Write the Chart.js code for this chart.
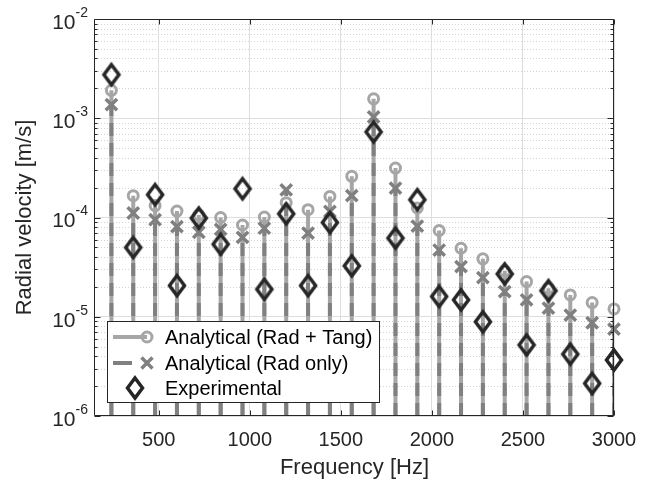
<!DOCTYPE html>
<html>
<head>
<meta charset="utf-8">
<script src="https://cdn.jsdelivr.net/npm/chart.js@4.4.1/dist/chart.umd.min.js"></script>
<style>
  html, body { margin: 0; padding: 0; background: #fff; }
</style>
</head>
<body>
<canvas id="stemChart" width="650" height="485"></canvas>
<script>
// mode frequencies [Hz]
var freqs = [240, 360, 480, 600, 720, 840, 960, 1080, 1200, 1320, 1440, 1560,
             1680, 1800, 1920, 2040, 2160, 2280, 2400, 2520, 2640, 2760, 2880, 3000];
// radial velocity [m/s]
var radTang = [1.91e-3, 1.66e-4, 1.32e-4, 1.16e-4, 1.06e-4, 1.0e-4, 8.4e-5, 1.01e-4, 1.41e-4, 1.2e-4, 1.63e-4, 2.6e-4,
               1.57e-3, 3.15e-4, 1.25e-4, 7.4e-5, 4.9e-5, 3.83e-5, 2.9e-5, 2.26e-5, 1.94e-5, 1.66e-5, 1.39e-5, 1.2e-5];
var radOnly = [1.37e-3, 1.11e-4, 9.5e-5, 8.1e-5, 7.1e-5, 7.6e-5, 6.3e-5, 7.8e-5, 1.9e-4, 6.95e-5, 1.15e-4, 1.66e-4,
               1.03e-3, 1.98e-4, 8.2e-5, 4.7e-5, 3.2e-5, 2.48e-5, 1.79e-5, 1.48e-5, 1.22e-5, 1.04e-5, 8.7e-6, 7.5e-6];
var experimental = [2.75e-3, 4.99e-5, 1.7e-4, 2.06e-5, 9.86e-5, 5.38e-5, 1.95e-4, 1.89e-5, 1.09e-4, 2.06e-5, 8.9e-5, 3.26e-5,
                    7.28e-4, 6.2e-5, 1.51e-4, 1.6e-5, 1.48e-5, 8.9e-6, 2.7e-5, 5.2e-6, 1.83e-5, 4.2e-6, 2.13e-6, 3.67e-6];

var xTicks = [500, 1000, 1500, 2000, 2500, 3000];
var yDecades = [1e-6, 1e-5, 1e-4, 1e-3, 1e-2];
var yExponents = ['-6', '-5', '-4', '-3', '-2'];
var seriesNames = ['Analytical (Rad + Tang)', 'Analytical (Rad only)', 'Experimental'];

var LIGHT = '#a6a6a6';
var DARK = '#808080';
var BLACK = '#262626';
var FONT = '"Liberation Sans", Arial, Helvetica, sans-serif';
var STEM_DASH = [13, 7];

// stems: bottom point, top point, gap
function stems(vals) {
    var pts = [];
    freqs.forEach(function (f, i) {
        pts.push({ x: f, y: yDecades[0] }, { x: f, y: vals[i] }, { x: f, y: null });
    });
    return pts;
}
function points(vals) {
    return freqs.map(function (f, i) { return { x: f, y: vals[i] }; });
}

// matlab-like tall diamond marker
function diamondMarker() {
    var c = document.createElement('canvas');
    c.width = 26; c.height = 32;
    var g = c.getContext('2d');
    g.strokeStyle = BLACK;
    g.lineWidth = 3.5;
    g.lineJoin = 'miter';
    g.beginPath();
    g.moveTo(13, 6); g.lineTo(20.5, 16); g.lineTo(13, 26); g.lineTo(5.5, 16);
    g.closePath();
    g.stroke();
    return c;
}
var diamond = diamondMarker();

var matlabAxes = {
    id: 'matlabAxes',
    beforeDatasetsDraw: function (chart) {
        var ctx = chart.ctx, a = chart.chartArea, ys = chart.scales.y;
        ctx.save();
        ctx.strokeStyle = '#d2d2d2';
        ctx.lineWidth = 1;
        ctx.setLineDash([1, 2]);
        for (var d = 0; d < yDecades.length - 1; d++) {
            for (var m = 2; m <= 9; m++) {
                var py = Math.round(ys.getPixelForValue(m * yDecades[d])) + 0.5;
                ctx.beginPath();
                ctx.moveTo(a.left, py); ctx.lineTo(a.right, py);
                ctx.stroke();
            }
        }
        ctx.restore();
    },
    afterDatasetsDraw: function (chart) {
        var ctx = chart.ctx, a = chart.chartArea, xs = chart.scales.x, ys = chart.scales.y;
        var L = Math.round(a.left) - 0.5, R = Math.round(a.right) - 0.5;
        var T = Math.round(a.top) + 0.5, B = Math.round(a.bottom) - 0.5;
        ctx.save();
        ctx.strokeStyle = BLACK;
        ctx.lineWidth = 1;
        ctx.beginPath();
        // box
        ctx.rect(L, T, R - L, B - T);
        // x ticks top and bottom
        xTicks.forEach(function (v) {
            var px = Math.round(xs.getPixelForValue(v)) + 0.5;
            ctx.moveTo(px, B); ctx.lineTo(px, B - 5);
            ctx.moveTo(px, T); ctx.lineTo(px, T + 5);
        });
        // y ticks left and right, major + minor
        for (var d = 0; d < yDecades.length; d++) {
            var py = Math.round(ys.getPixelForValue(yDecades[d])) + 0.5;
            ctx.moveTo(L, py); ctx.lineTo(L + 6, py);
            ctx.moveTo(R, py); ctx.lineTo(R - 6, py);
            if (d === yDecades.length - 1) break;
            for (var m = 2; m <= 9; m++) {
                var pm = Math.round(ys.getPixelForValue(m * yDecades[d])) + 0.5;
                ctx.moveTo(L, pm); ctx.lineTo(L + 3, pm);
                ctx.moveTo(R, pm); ctx.lineTo(R - 3, pm);
            }
        }
        ctx.stroke();

        // y tick labels 10^n
        ctx.fillStyle = BLACK;
        ctx.textBaseline = 'middle';
        yDecades.forEach(function (v, i) {
            var py = ys.getPixelForValue(v);
            ctx.font = '14px ' + FONT;
            ctx.textAlign = 'right';
            ctx.fillText(yExponents[i], 88, py - 6);
            var ew = ctx.measureText(yExponents[i]).width;
            ctx.font = '21px ' + FONT;
            ctx.fillText('10', 88 - ew, py + 4);
        });

        // legend
        var lx = 107.5, ly = 321.5, lw = 272, lh = 81;
        ctx.fillStyle = '#fff';
        ctx.fillRect(lx, ly, lw, lh);
        ctx.strokeStyle = BLACK;
        ctx.lineWidth = 1;
        ctx.strokeRect(lx, ly, lw, lh);
        var rows = [337, 363, 388];
        // row 1: light line + circle
        ctx.strokeStyle = LIGHT; ctx.lineWidth = 4;
        ctx.beginPath(); ctx.moveTo(113, rows[0]); ctx.lineTo(147, rows[0]); ctx.stroke();
        ctx.lineWidth = 3;
        ctx.beginPath(); ctx.arc(147, rows[0], 5, 0, Math.PI * 2); ctx.stroke();
        // row 2: dark dash + cross
        ctx.strokeStyle = DARK; ctx.lineWidth = 4;
        ctx.beginPath(); ctx.moveTo(113, rows[1]); ctx.lineTo(132, rows[1]); ctx.stroke();
        ctx.lineWidth = 3.5;
        ctx.beginPath();
        ctx.moveTo(141.5, rows[1] - 5.5); ctx.lineTo(152.5, rows[1] + 5.5);
        ctx.moveTo(152.5, rows[1] - 5.5); ctx.lineTo(141.5, rows[1] + 5.5);
        ctx.stroke();
        // row 3: diamond
        ctx.drawImage(diamond, 135 - 13, rows[2] - 16);
        ctx.fillStyle = '#000';
        ctx.font = '20px ' + FONT;
        ctx.textAlign = 'left';
        seriesNames.forEach(function (s, i) { ctx.fillText(s, 165, rows[i] + 1); });
        ctx.restore();
    }
};

var ctx = document.getElementById('stemChart').getContext('2d');
new Chart(ctx, {
    type: 'line',
    data: {
        datasets: [
            {
                label: 'stems rad+tang', data: stems(radTang), order: 5,
                borderColor: LIGHT, borderWidth: 4, pointRadius: 0, spanGaps: false, fill: false
            },
            {
                label: seriesNames[0], data: points(radTang), order: 4, showLine: false, clip: false,
                pointStyle: 'circle', pointRadius: 5, pointBorderWidth: 3,
                pointBorderColor: LIGHT, pointBackgroundColor: 'rgba(0,0,0,0)'
            },
            {
                label: 'stems rad', data: stems(radOnly), order: 3,
                borderColor: DARK, borderWidth: 4, borderDash: STEM_DASH, pointRadius: 0, spanGaps: false, fill: false
            },
            {
                label: seriesNames[1], data: points(radOnly), order: 2, showLine: false, clip: false,
                pointStyle: 'crossRot', pointRadius: 8, pointBorderWidth: 3.5,
                pointBorderColor: DARK, pointBackgroundColor: DARK
            },
            {
                label: seriesNames[2], data: points(experimental), order: 1, showLine: false, clip: false,
                pointStyle: diamond, pointRadius: 10
            }
        ]
    },
    options: {
        responsive: false,
        animation: false,
        layout: { padding: { left: 0, right: 36, top: 19, bottom: 0 } },
        plugins: { legend: { display: false }, tooltip: { enabled: false } },
        scales: {
            x: {
                type: 'linear', min: 150, max: 3000,
                afterBuildTicks: function (s) { s.ticks = xTicks.map(function (v) { return { value: v }; }); },
                afterFit: function (s) { s.height = 69; },
                grid: { color: '#dedede', drawTicks: false },
                border: { display: false },
                ticks: {
                    color: BLACK, padding: 12, maxRotation: 0, font: { family: FONT, size: 20 },
                    callback: function (v) { return String(v); }
                },
                title: { display: true, text: 'Frequency [Hz]', color: BLACK, padding: { top: 0, bottom: 3.5 }, font: { family: FONT, size: 22 } }
            },
            y: {
                type: 'logarithmic', min: yDecades[0], max: yDecades[yDecades.length - 1],
                afterBuildTicks: function (s) { s.ticks = yDecades.map(function (v) { return { value: v }; }); },
                afterFit: function (s) { s.width = 95; },
                grid: { color: '#dedede', drawTicks: false },
                border: { display: false },
                ticks: { display: false },
                title: { display: true, text: 'Radial velocity [m/s]', color: BLACK, padding: { top: 12, bottom: 0 }, font: { family: FONT, size: 22 } }
            }
        }
    },
    plugins: [matlabAxes]
});
</script>
</body>
</html>
